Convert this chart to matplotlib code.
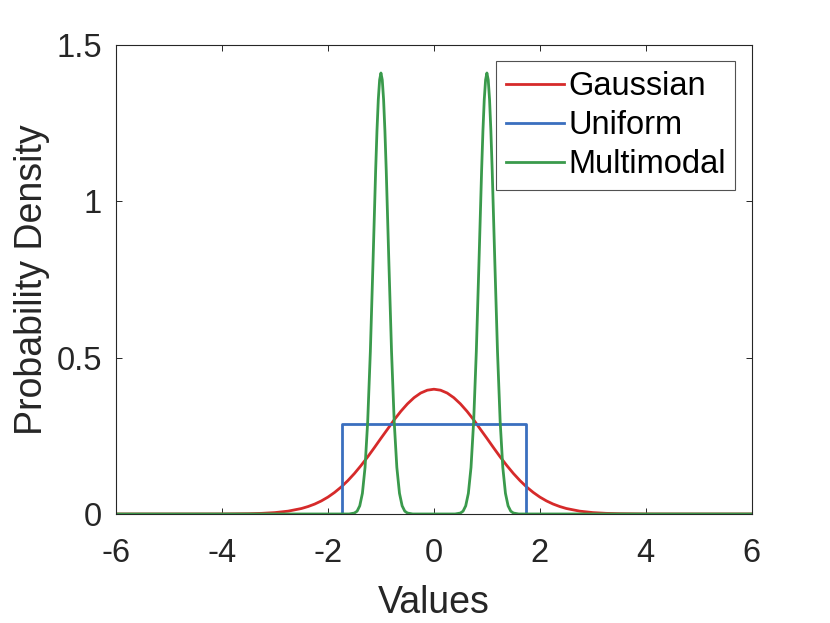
import matplotlib
matplotlib.use("Agg")
import matplotlib.pyplot as plt

plt.rcParams["font.family"] = ["Liberation Sans", "DejaVu Sans"]
plt.rcParams["axes.unicode_minus"] = False

# Gaussian curve
gauss_x = [-6, -5, -4, -3.5, -3.25, -3, -2.75, -2.5, -2.375, -2.25, -2.125, -2,
           -1.875, -1.75, -1.625, -1.5, -1.375, -1.25, -1.125, -1, -0.875, -0.75,
           -0.625, -0.5, -0.375, -0.25, -0.125, 0, 0.125, 0.25, 0.375, 0.5, 0.625,
           0.75, 0.875, 1, 1.125, 1.25, 1.375, 1.5, 1.625, 1.75, 1.875, 2, 2.125,
           2.25, 2.375, 2.5, 2.75, 3, 3.25, 3.5, 4, 5, 6]
gauss_y = [0, 0, 0.0001, 0.0009, 0.002, 0.0044, 0.0091, 0.0175, 0.0238, 0.0317,
           0.0417, 0.054, 0.0689, 0.0863, 0.1066, 0.1295, 0.1551, 0.1826, 0.2119,
           0.242, 0.2713, 0.3011, 0.3282, 0.3521, 0.3719, 0.3867, 0.3958, 0.3989,
           0.3958, 0.3867, 0.3719, 0.3521, 0.3282, 0.3011, 0.2713, 0.242, 0.2119,
           0.1826, 0.1551, 0.1295, 0.1066, 0.0863, 0.0689, 0.054, 0.0417, 0.0317,
           0.0238, 0.0175, 0.0091, 0.0044, 0.002, 0.0009, 0.0001, 0, 0]

# Uniform curve
unif_x = [-6, -1.732, -1.732, 1.732, 1.732, 6]
unif_y = [0, 0, 0.2887, 0.2887, 0, 0]

# Multimodal curve (two narrow peaks)
multi_x = [-6, -1.6, -1.5, -1.45, -1.4, -1.35, -1.3, -1.25, -1.2, -1.15, -1.1,
           -1.075, -1.05, -1.025, -1, -0.975, -0.95, -0.925, -0.9, -0.85, -0.8,
           -0.75, -0.7, -0.65, -0.6, -0.55, -0.5, -0.4,
           0,
           0.4, 0.5, 0.55, 0.6, 0.65, 0.7, 0.75, 0.8, 0.85, 0.9, 0.925, 0.95,
           0.975, 1, 1.025, 1.05, 1.075, 1.1, 1.15, 1.2, 1.25, 1.3, 1.35, 1.4,
           1.45, 1.5, 1.6, 6]
multi_y = [0, 0, 0.003, 0.009, 0.026, 0.066, 0.149, 0.296, 0.519, 0.803, 1.098,
           1.225, 1.325, 1.388, 1.41, 1.388, 1.325, 1.225, 1.098, 0.803, 0.519,
           0.296, 0.149, 0.066, 0.026, 0.009, 0.003, 0,
           0,
           0, 0.003, 0.009, 0.026, 0.066, 0.149, 0.296, 0.519, 0.803, 1.098,
           1.225, 1.325, 1.388, 1.41, 1.388, 1.325, 1.225, 1.098, 0.803, 0.519,
           0.296, 0.149, 0.066, 0.026, 0.009, 0.003, 0, 0]

x_ticks = [-6, -4, -2, 0, 2, 4, 6]
y_ticks = [0, 0.5, 1, 1.5]
y_tick_labels = ["0", "0.5", "1", "1.5"]

fig = plt.figure(figsize=(8.3, 6.23), dpi=100)
ax = fig.add_axes([0.1398, 0.175, 0.766, 0.753])

ax.plot(gauss_x, gauss_y, color="#d62a2a", lw=2.0, label="Gaussian")
ax.plot(unif_x, unif_y, color="#3a6fbf", lw=2.0, label="Uniform")
ax.plot(multi_x, multi_y, color="#3a9a4c", lw=2.0, label="Multimodal")

ax.set_xlim(-6, 6)
ax.set_ylim(0, 1.5)
ax.set_xticks(x_ticks)
ax.set_yticks(y_ticks)
ax.set_yticklabels(y_tick_labels)
ax.tick_params(direction="in", length=4.5, width=0.7, top=True, right=True,
               labelsize=23.5, colors="#262626")
ax.tick_params(axis="x", pad=17)
ax.tick_params(axis="y", pad=10)
for s in ax.spines.values():
    s.set_linewidth(0.8)
    s.set_color("#262626")

ax.set_xlabel("Values", fontsize=27, color="#262626", labelpad=12)
ax.set_ylabel("Probability Density", fontsize=27, color="#262626", labelpad=5)

leg = ax.legend(loc="upper right", fontsize=23.5, frameon=True, fancybox=False,
                handlelength=1.8, handletextpad=0.12, labelspacing=0.25,
                borderaxespad=0.5, borderpad=0.3)
leg.get_frame().set_edgecolor("#262626")
leg.get_frame().set_linewidth(0.8)

fig.savefig("out.png", dpi=100)
